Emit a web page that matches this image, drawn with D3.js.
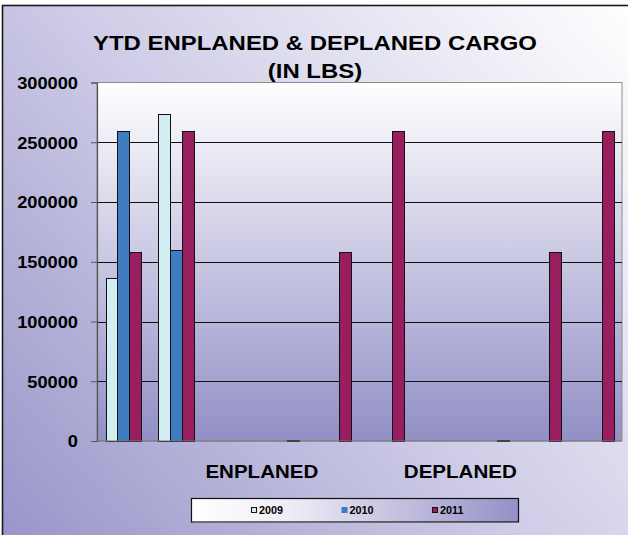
<!DOCTYPE html>
<html>
<head>
<meta charset="utf-8">
<script src="https://cdn.jsdelivr.net/npm/d3@7"></script>
<style>
  html, body { margin: 0; padding: 0; background: #ffffff; }
  svg { display: block; }
  text { font-family: "Liberation Sans", Arial, sans-serif; font-weight: bold; fill: #000; }
</style>
</head>
<body>
<script>
// Chart data
const categories = ["c1", "c2", "c3", "c4", "c5", "c6", "c7", "c8", "c9", "c10"];
const seriesNames = ["2009", "2010", "2011"];
const values2009 = [136000, 273500, null, null, null, null, null, null, null, null];
const values2010 = [259000, 160000, null, null, null, null, null, null, null, null];
const values2011 = [158000, 259500, null, 0, 158000, 259500, null, 0, 158000, 259500];
const yTicks = [0, 50000, 100000, 150000, 200000, 250000, 300000];
const groupLabels = ["ENPLANED", "DEPLANED"];
const groupLabelAt = [3.14, 6.92];   // position along the category axis, in category units
const seriesColors = ["#d2eef3", "#3f7cc0", "#981e5f"];
const titleLines = ["YTD ENPLANED & DEPLANED CARGO", "(IN LBS)"];

const W = 628, H = 535;
const stretch = 1.14; // horizontal text stretch
const plot = { left: 97, right: 622, top: 82.5, bottom: 441 };

const svg = d3.select("body").append("svg").attr("width", W).attr("height", H);
const defs = svg.append("defs");

// Chart area background: diagonal lavender gradient
const bg = defs.append("linearGradient").attr("id", "bgGrad")
  .attr("gradientUnits", "userSpaceOnUse")
  .attr("x1", 0).attr("y1", H).attr("x2", W).attr("y2", 0);
bg.append("stop").attr("offset", "0%").attr("stop-color", "#9995c9");
bg.append("stop").attr("offset", "50%").attr("stop-color", "#d0cee8");
bg.append("stop").attr("offset", "100%").attr("stop-color", "#ffffff");

// Plot area background: vertical gradient
const pg = defs.append("linearGradient").attr("id", "plotGrad")
  .attr("x1", 0).attr("y1", 0).attr("x2", 0).attr("y2", 1);
pg.append("stop").attr("offset", "0%").attr("stop-color", "#ffffff");
pg.append("stop").attr("offset", "100%").attr("stop-color", "#928fc6");

// Legend background
const lg = defs.append("linearGradient").attr("id", "legGrad")
  .attr("x1", 0).attr("y1", 0).attr("x2", 1).attr("y2", 0);
lg.append("stop").attr("offset", "0%").attr("stop-color", "#ffffff");
lg.append("stop").attr("offset", "30%").attr("stop-color", "#eeedf6");
lg.append("stop").attr("offset", "100%").attr("stop-color", "#9590c6");

svg.append("rect").attr("x", 2.5).attr("y", 5.5).attr("width", W).attr("height", H)
  .attr("fill", "url(#bgGrad)").attr("stroke", "#1a1a1a").attr("stroke-width", 1.6);

// Scales
const x = d3.scaleBand().domain(d3.range(categories.length))
  .range([plot.left, plot.right]).paddingInner(0).paddingOuter(0);
const xs = d3.scaleBand().domain(seriesNames)
  .range([0, x.bandwidth()]).paddingInner(0).paddingOuter(0.75);
const y = d3.scaleLinear().domain([0, 300000]).range([plot.bottom, plot.top]);
const xPos = d3.scaleLinear().domain([0, categories.length]).range([plot.left, plot.right]);

// Plot area
svg.append("rect").attr("x", plot.left).attr("y", plot.top)
  .attr("width", plot.right - plot.left).attr("height", plot.bottom - plot.top)
  .attr("fill", "url(#plotGrad)").attr("stroke", "#8c8c8c").attr("stroke-width", 1);

// Gridlines
svg.append("g").selectAll("line").data(yTicks.filter(t => t > 0 && t < 300000)).join("line")
  .attr("x1", plot.left).attr("x2", plot.right)
  .attr("y1", d => Math.round(y(d)) + 0.5).attr("y2", d => Math.round(y(d)) + 0.5)
  .attr("stroke", "#111").attr("stroke-width", 1);

// Y axis
const yAxis = svg.append("g").attr("transform", `translate(${plot.left},0)`)
  .call(d3.axisLeft(y).tickValues(yTicks).tickSize(6).tickPadding(0).tickFormat(d3.format("d")));
yAxis.select(".domain").attr("stroke", "#555").attr("stroke-width", 1.2);
yAxis.selectAll(".tick line").attr("stroke", "#555");
yAxis.selectAll(".tick text").remove();
yAxis.selectAll(".tick").append("g")
  .attr("transform", `translate(-19,0) scale(${stretch},1)`)
  .append("text").attr("text-anchor", "end").attr("dy", "0.36em")
  .style("font-size", "16px").text(d => d3.format("d")(d));

// Bars (a zero value still shows as a flat outlined bar)
const seriesData = [values2009, values2010, values2011].map((vals, i) => ({ name: seriesNames[i], color: seriesColors[i], vals }));
const bars = [];
seriesData.forEach(s => s.vals.forEach((v, ci) => { if (v !== null) bars.push({ s, ci, v }); }));
const y0 = Math.round(y(0)) + 0.5;
svg.append("g").selectAll("rect").data(bars).join("rect")
  .attr("x", d => Math.round(x(d.ci) + xs(d.s.name)) + 0.5)
  .attr("width", Math.round(xs.bandwidth()))
  .attr("y", d => Math.min(Math.round(y(d.v)) + 0.5, y0 - 1))
  .attr("height", d => Math.max(y0 - (Math.round(y(d.v)) + 0.5), 1))
  .attr("fill", d => d.v === 0 ? "#111" : d.s.color)
  .attr("stroke", "#111").attr("stroke-width", 1);

// Bottom axis line
svg.append("line").attr("x1", plot.left).attr("x2", plot.right)
  .attr("y1", plot.bottom).attr("y2", plot.bottom).attr("stroke", "#777").attr("stroke-width", 1);

// Category group labels
svg.append("g").selectAll("g").data(groupLabels).join("g")
  .attr("transform", (d, i) => `translate(${xPos(groupLabelAt[i])},478) scale(${stretch},1)`)
  .append("text").attr("text-anchor", "middle").style("font-size", "18px").text(d => d);

// Title
svg.append("g").selectAll("g").data(titleLines).join("g")
  .attr("transform", (d, i) => `translate(315,${50 + i * 27.5}) scale(${stretch},1)`)
  .append("text").attr("text-anchor", "middle").style("font-size", "21px").text(d => d);

// Legend
const legend = svg.append("g");
legend.append("rect").attr("x", 192.5).attr("y", 521).attr("width", 326).attr("height", 2)
  .attr("fill", "#f2f1f8");
legend.append("rect").attr("x", 191.5).attr("y", 498.5).attr("width", 327).attr("height", 23.5)
  .attr("fill", "url(#legGrad)").attr("stroke", "#111").attr("stroke-width", 1.2);
const legX = d3.scalePoint().domain(seriesNames).range([251, 432]);
const items = legend.selectAll("g.item").data(seriesData).join("g").attr("class", "item")
  .attr("transform", d => `translate(${legX(d.name)},0)`);
items.append("rect").attr("x", 0.5).attr("y", 507.5).attr("width", 5).attr("height", 5)
  .attr("fill", d => d.color).attr("stroke", (d, i) => i === 1 ? d.color : "#111").attr("stroke-width", 1);
items.append("g").attr("transform", `translate(8,514) scale(1.08,1)`)
  .append("text").style("font-size", "10px").text(d => d.name);
</script>
</body>
</html>
